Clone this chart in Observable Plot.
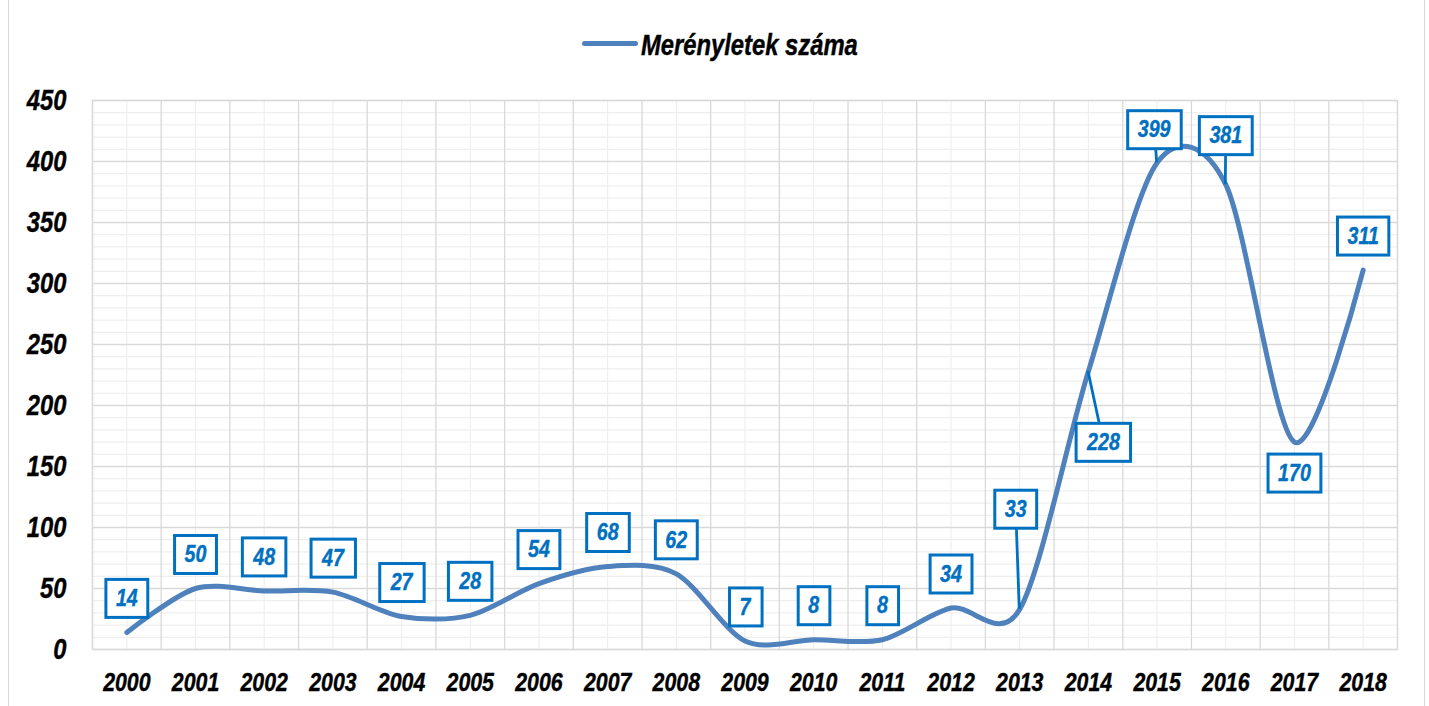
<!DOCTYPE html>
<html>
<head>
<meta charset="utf-8">
<script src="https://cdn.jsdelivr.net/npm/d3@7"></script>
<script src="https://cdn.jsdelivr.net/npm/@observablehq/plot@0.6"></script>
<style>
  html, body { margin: 0; padding: 0; background: #fff; }
  #wrap { position: relative; width: 1429px; height: 706px; overflow: hidden; }
  #frameL, #frameR { position: absolute; top: 0; width: 0; height: 706px; border-left: 1.3px solid #d9d9d9; }
  #frameL { left: 8px; }
  #frameR { left: 1424px; }
  #legend { position: relative; height: 70px; width: 1429px; }
  #legend .key { position: absolute; left: 582px; top: 41px; width: 56px; height: 5px; background: #4F81BD; border-radius: 3px; }
  #legend .lab { position: absolute; left: 641px; top: 28px; font-family: 'Liberation Sans Narrow', 'Arial Narrow', 'Liberation Sans', Arial, sans-serif; font-size: 29px; font-weight: bold; font-style: italic; color: #000; line-height: 34px; white-space: nowrap; transform: scaleX(0.82); transform-origin: 0 50%; -webkit-text-stroke: 0.4px #000; }
  svg { display: block; }
</style>
</head>
<body>
<div id="wrap">
  <div id="frameL"></div>
  <div id="frameR"></div>
  <div id="legend"><div class="key"></div><div class="lab"></div></div>
  <div id="chart"></div>
</div>
<script>
// ---- data ----
const seriesName = "Merényletek száma";
const years = [2000, 2001, 2002, 2003, 2004, 2005, 2006, 2007, 2008, 2009, 2010, 2011, 2012, 2013, 2014, 2015, 2016, 2017, 2018];
const attacks = [14, 50, 48, 47, 27, 28, 54, 68, 62, 7, 8, 8, 34, 33, 228, 399, 381, 170, 311];
const yTicks = [0, 50, 100, 150, 200, 250, 300, 350, 400, 450];

// ---- label placement (layout only) ----
const defaultOffset = {dx: 0, dy: -34, leader: false};
const labelOffsets = {
  2013: {dx: -4, dy: -100, leader: true},
  2014: {dx: 15, dy: 71, leader: true},
  2015: {dx: -3, dy: -33, leader: true},
  2016: {dx: 0, dy: -49, leader: true},
  2017: {dx: 0, dy: 31, leader: false}
};

const FONT = "'Liberation Sans Narrow', 'Arial Narrow', 'Liberation Sans', Arial, sans-serif";
const NARROW = 0.82;
const LINE = "#4F81BD";
const LABEL = "#0070C0";

document.querySelector("#legend .lab").textContent = seriesName;

const rows = years.map((year, i) => ({year, value: attacks[i]}));
const boundaries = d3.range(years.length + 1).map(i => years[0] - 0.5 + i);
const minorY = d3.range(0, 451, 10).filter(v => v % 50 !== 0);

const labelMarks = rows.map(r => {
  const o = labelOffsets[r.year] || defaultOffset;
  return Plot.text([r], {
    x: "year", y: "value", text: d => String(d.value),
    dx: o.dx, dy: o.dy,
    fill: LABEL, stroke: LABEL, strokeWidth: 0.4,
    fontSize: 24, fontWeight: "bold", fontStyle: "italic", fontFamily: FONT
  });
});

const chart = Plot.plot({
  width: 1429,
  height: 636,
  marginTop: 30,
  marginBottom: 57,
  marginLeft: 92,
  marginRight: 32,
  style: {fontFamily: FONT, background: "transparent", overflow: "visible"},
  x: {type: "linear", domain: [years[0] - 0.5, years[years.length - 1] + 0.5], label: null},
  y: {domain: [0, 450], label: null},
  marks: [
    Plot.ruleY(minorY, {stroke: "#efefef", strokeWidth: 1.2}),
    Plot.ruleX(years, {stroke: "#efefef", strokeWidth: 1.2}),
    Plot.ruleY(yTicks, {stroke: "#d9d9d9", strokeWidth: 1.3}),
    Plot.ruleX(boundaries, {stroke: "#d9d9d9", strokeWidth: 1.3}),
    Plot.frame({stroke: "#d9d9d9", strokeWidth: 1.3}),
    Plot.axisY(yTicks, {tickSize: 0, tickPadding: 26, fontSize: 29, fontWeight: "bold", fontStyle: "italic", fill: "#000", label: null}),
    Plot.axisX(years, {tickSize: 0, tickPadding: 23, fontSize: 26, fontWeight: "bold", fontStyle: "italic", fill: "#000", tickFormat: d => String(d), label: null}),
    Plot.line(rows, {x: "year", y: "value", curve: "cardinal", tension: 0.1, stroke: LINE, strokeWidth: 5, strokeLinecap: "round", strokeLinejoin: "round"}),
    ...labelMarks
  ]
});

document.getElementById("chart").append(chart);

const svgSel = d3.select(chart);
// condense all text horizontally (narrow face emulation)
svgSel.selectAll("text").each(function() {
  const tr = this.getAttribute("transform") || "";
  this.setAttribute("transform", (tr + ` scale(${NARROW},1)`).trim());
});
// slightly heavier axis labels
svgSel.selectAll('g[aria-label$="tick label"]')
  .attr("stroke", "#000").attr("stroke-width", 0.4);

// boxes around data labels + leader lines (drawn in SVG coordinates)
const sx = chart.scale("x"), sy = chart.scale("y");
const svgBox = chart.getBoundingClientRect();
const labelGroups = svgSel.selectAll('g[aria-label="text"]');
const leaderLayer = svgSel.append("g").attr("aria-label", "label leaders");
const boxLayer = svgSel.append("g").attr("aria-label", "label boxes");
labelGroups.each(function(_, i) {
  const t = d3.select(this).select("text").node();
  const tb = t.getBoundingClientRect();
  const tx = tb.left - svgBox.left, ty = tb.top - svgBox.top;
  const bx = tx - 10, bw = tb.width + 20;
  const bcy = ty + tb.height / 2 + 0.5;
  const by = bcy - 19, bh = 38;
  boxLayer.append("rect")
    .attr("x", bx).attr("y", by).attr("width", bw).attr("height", bh)
    .attr("fill", "#fff")
    .style("stroke", LABEL).style("stroke-width", "3px");
  const r = rows[i];
  const o = labelOffsets[r.year] || defaultOffset;
  if (o.leader) {
    const cx = bx + bw / 2, cy = by + bh / 2;
    const px = sx.apply(r.year), py = sy.apply(r.value);
    const ddx = px - cx, ddy = py - cy;
    const k = Math.min(ddx === 0 ? Infinity : (bw / 2) / Math.abs(ddx), ddy === 0 ? Infinity : (bh / 2) / Math.abs(ddy));
    leaderLayer.append("line")
      .attr("x1", cx + ddx * k).attr("y1", cy + ddy * k)
      .attr("x2", px).attr("y2", py)
      .style("stroke", LABEL).style("stroke-width", "2.8px");
  }
});
labelGroups.raise();
</script>
</body>
</html>
